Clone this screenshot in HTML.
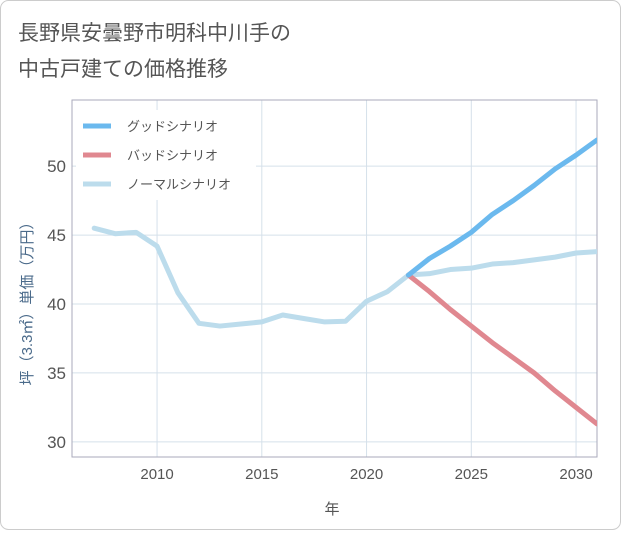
<!DOCTYPE html>
<html><head><meta charset="utf-8"><style>
body{margin:0;background:#fff;}
svg text{font-family:"Liberation Sans","Noto Sans CJK JP",sans-serif;}
</style></head><body>
<svg id="c" width="621" height="530" xmlns="http://www.w3.org/2000/svg">
<rect x="0.5" y="0.5" width="620" height="529" rx="8" fill="#fff" stroke="#ccc"/>
<text x="18" y="40" font-size="21" fill="#555">長野県安曇野市明科中川手の</text>
<text x="18" y="76" font-size="21" fill="#555">中古戸建ての価格推移</text>
<g id="grid"></g>
<g id="axes"></g>
<g id="series"></g>
<g id="legend"></g>
<text x="332" y="514" font-size="15" fill="#555" text-anchor="middle">年</text>
<text transform="translate(32,300) rotate(-90)" font-size="15" fill="#4a6a8a" text-anchor="middle">坪（3.3㎡）単価（万円）</text>
</svg>
<script>
const normalYears=[2007,2008,2009,2010,2011,2012,2013,2014,2015,2016,2017,2018,2019,2020,2021,2022,2023,2024,2025,2026,2027,2028,2029,2030,2031];
const normalValues=[45.5,45.1,45.2,44.2,40.8,38.6,38.4,38.55,38.7,39.2,38.95,38.7,38.75,40.2,40.9,42.1,42.2,42.5,42.6,42.9,43.0,43.2,43.4,43.7,43.8];
const futureYears=[2022,2023,2024,2025,2026,2027,2028,2029,2030,2031];
const goodValues=[42.1,43.3,44.2,45.2,46.5,47.5,48.6,49.8,50.8,51.9];
const badValues=[42.1,40.9,39.6,38.4,37.2,36.1,35.0,33.7,32.5,31.3];
const xTicks=[2010,2015,2020,2025,2030];
const yTicks=[30,35,40,45,50];
const legendLabels=["グッドシナリオ","バッドシナリオ","ノーマルシナリオ"];
const legendColors=["#6bb9ee","#e08890","#bcdcec"];

const L=72,R=597,T=100,B=457,x0=2005.94,x1=2031.0,y0=28.9,y1=54.8;
const sx=v=>L+(v-x0)/(x1-x0)*(R-L);
const sy=v=>B-(v-y0)/(y1-y0)*(B-T);
const NS="http://www.w3.org/2000/svg";
function mk(p,t,a){const e=document.createElementNS(NS,t);for(const k in a)e.setAttribute(k,a[k]);p.appendChild(e);return e;}
const g=document.getElementById('grid'),ax=document.getElementById('axes'),s=document.getElementById('series'),lg=document.getElementById('legend');
xTicks.forEach(t=>{const l=mk(g,'line',{x1:sx(t),x2:sx(t),y1:T,y2:B,stroke:'#d5e0ea'});

const tx=mk(ax,'text',{x:sx(t),y:B+22,'font-size':15,fill:'#555','text-anchor':'middle'});tx.textContent=t;
});
yTicks.forEach(t=>{const l=mk(g,'line',{x1:L,x2:R,y1:sy(t),y2:sy(t),stroke:'#d5e0ea'});

const tx=mk(ax,'text',{x:L-6,y:sy(t)+6,'font-size':17,fill:'#555','text-anchor':'end'});tx.textContent=t;
});
const fr=mk(ax,'rect',{x:L,y:T,width:R-L,height:B-T,fill:'none',stroke:'#aab'});

function line(xs,ys,c,n){const p=mk(s,'polyline',{points:xs.map((x,i)=>sx(x)+','+sy(ys[i])).join(' '),fill:'none',stroke:c,'stroke-width':5,'stroke-linejoin':'round','stroke-linecap':'round'});
}
const cp=mk(s,'clipPath',{id:'cp'});mk(cp,'rect',{x:L,y:T,width:R-L,height:B-T});s.setAttribute('clip-path','url(#cp)');
line(normalYears,normalValues,legendColors[2],'normal-scenario-line');
line(futureYears,badValues,legendColors[1],'bad-scenario-line');
line(futureYears,goodValues,legendColors[0],'good-scenario-line');
mk(lg,'rect',{x:76,y:110,width:180,height:90,fill:'#fff'});
legendLabels.forEach((lb,i)=>{const y=126+i*29;
const r=mk(lg,'line',{x1:83,x2:111,y1:y,y2:y,stroke:legendColors[i],'stroke-width':5});

const t=mk(lg,'text',{x:127,y:y+5,'font-size':13,fill:'#555'});t.textContent=lb;
});
</script>
</body></html>
